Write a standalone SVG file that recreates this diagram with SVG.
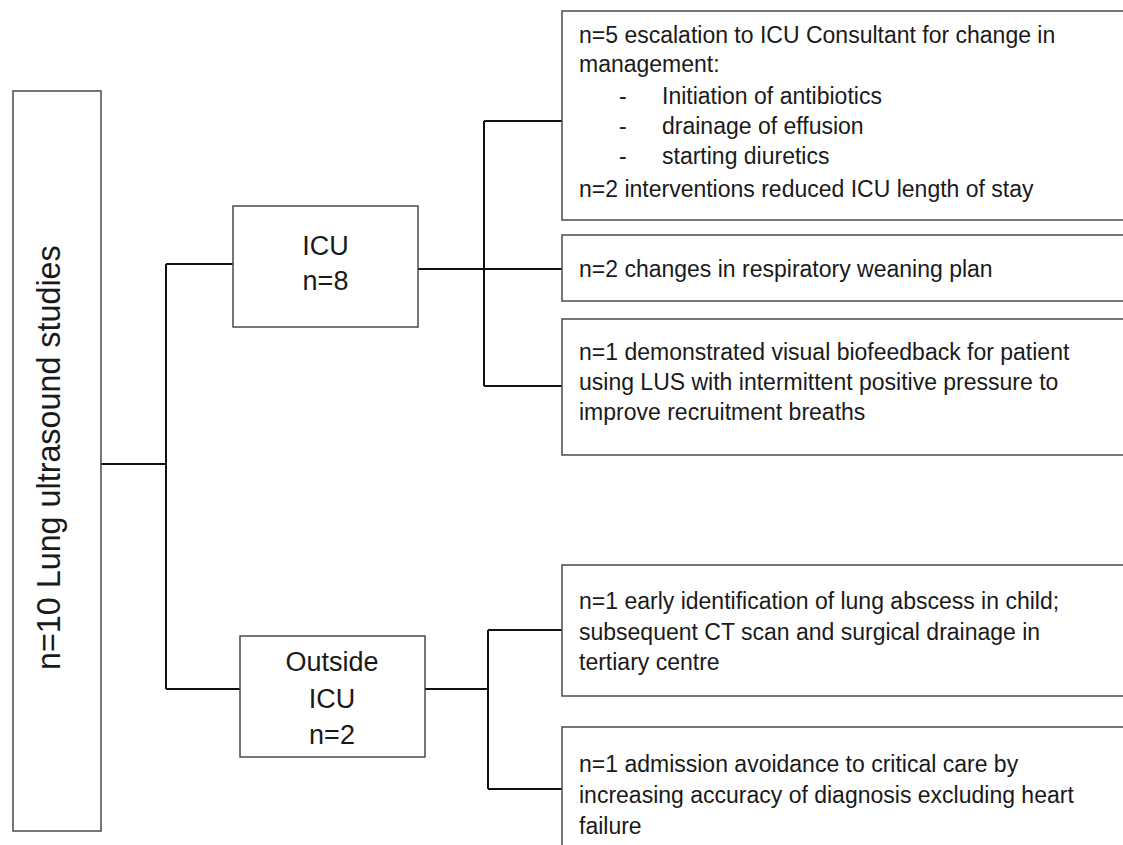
<svg xmlns="http://www.w3.org/2000/svg" width="1123" height="845" viewBox="0 0 1123 845">
<style>
.box{fill:#fff;stroke:#4a4a4a;stroke-width:1.5}
.con{fill:none;stroke:#111;stroke-width:2}
text{font-family:"Liberation Sans",Arial,sans-serif;fill:#1a1a1a}
.mid{font-size:27px;text-anchor:middle}
.sm{font-size:23px}
</style>
<rect width="1123" height="845" fill="#fff"/>
<g id="connectors">
<path class="con" d="M101,464 H166 M166,264 V689 M166,264 H233 M166,689 H240"/>
<path class="con" d="M418,269 H562 M484,121 V386 M484,121 H562 M484,386 H562"/>
<path class="con" d="M425,689 H488 M488,630 V789 M488,630 H562 M488,789 H562"/>
</g>
<g id="root">
<rect class="box" x="13" y="91" width="88" height="740"/>
<text x="60" y="670" font-size="32.3" transform="rotate(-90 60 670)">n=10 Lung ultrasound studies</text>
</g>
<g id="icu">
<rect class="box" x="233" y="206" width="185" height="121"/>
<text class="mid" x="325.5" y="255">ICU</text>
<text class="mid" x="325.5" y="290">n=8</text>
</g>
<g id="outside">
<rect class="box" x="240" y="636" width="185" height="121"/>
<text class="mid" x="332" y="671">Outside</text>
<text class="mid" x="332" y="708">ICU</text>
<text class="mid" x="332" y="744">n=2</text>
</g>
<g id="escalation">
<rect class="box" x="562" y="11" width="570" height="209"/>
<text class="sm" x="579" y="43">n=5 escalation to ICU Consultant for change in</text>
<text class="sm" x="579" y="72">management:</text>
<text class="sm" x="619" y="104">-</text><text class="sm" x="662" y="104">Initiation of antibiotics</text>
<text class="sm" x="619" y="134">-</text><text class="sm" x="662" y="134">drainage of effusion</text>
<text class="sm" x="619" y="164">-</text><text class="sm" x="662" y="164">starting diuretics</text>
<text class="sm" x="579" y="197">n=2 interventions reduced ICU length of stay</text>
</g>
<g id="weaning">
<rect class="box" x="562" y="235" width="570" height="66"/>
<text class="sm" x="579" y="277">n=2 changes in respiratory weaning plan</text>
</g>
<g id="biofeedback">
<rect class="box" x="562" y="319" width="570" height="136"/>
<text class="sm" x="579" y="360">n=1 demonstrated visual biofeedback for patient</text>
<text class="sm" x="579" y="390">using LUS with intermittent positive pressure to</text>
<text class="sm" x="579" y="420">improve recruitment breaths</text>
</g>
<g id="abscess">
<rect class="box" x="562" y="565" width="570" height="131"/>
<text class="sm" x="579" y="609">n=1 early identification of lung abscess in child;</text>
<text class="sm" x="579" y="640">subsequent CT scan and surgical drainage in</text>
<text class="sm" x="579" y="670">tertiary centre</text>
</g>
<g id="avoidance">
<rect class="box" x="562" y="727" width="570" height="140"/>
<text class="sm" x="579" y="772">n=1 admission avoidance to critical care by</text>
<text class="sm" x="579" y="803">increasing accuracy of diagnosis excluding heart</text>
<text class="sm" x="579" y="834">failure</text>
</g>
</svg>
